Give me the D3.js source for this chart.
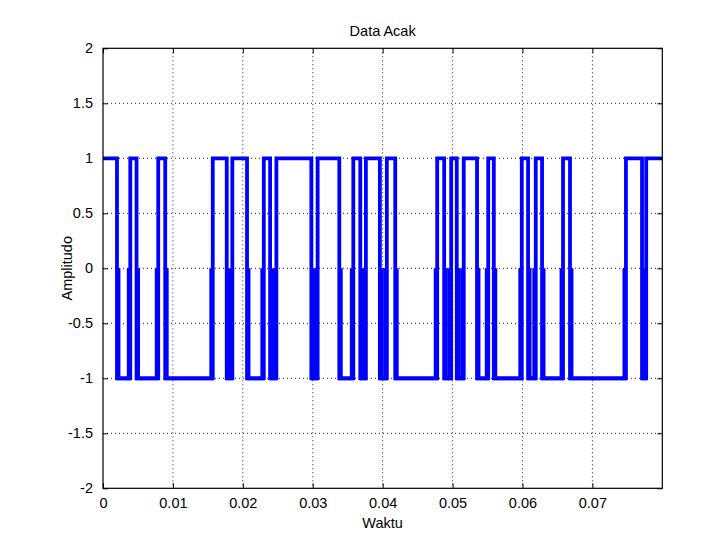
<!DOCTYPE html>
<html><head><meta charset="utf-8">
<script src="https://cdn.jsdelivr.net/npm/d3@7"></script>
<style>
body{margin:0;background:#fff}
svg text{font-family:"Liberation Sans",Arial,Helvetica,sans-serif;fill:#000}
</style>
</head><body>
<svg id="chart" width="716" height="534"></svg>
<script>
// segment start times (s) and amplitude of each segment
const segStart = [0, 0.0020, 0.0039, 0.0048, 0.0079, 0.0089, 0.0157, 0.0177, 0.0185, 0.0206,
  0.0230, 0.0239, 0.0248, 0.0298, 0.0307, 0.0338, 0.0358, 0.0368, 0.0376, 0.0396,
  0.0406, 0.0418, 0.0478, 0.0488, 0.0498, 0.0506, 0.0516, 0.0535, 0.0551, 0.0559,
  0.0599, 0.0608, 0.0619, 0.0628, 0.0658, 0.0668, 0.0748, 0.0771, 0.0777];
const segAmp = [1,-1,1,-1,1,-1,1,-1,1,-1,
  1,-1,1,-1,1,-1,1,-1,1,-1,
  1,-1,1,-1,1,-1,1,-1,1,-1,
  1,-1,1,-1,1,-1,1,-1,1];
const tMax = 0.08;
const xTicks = [0, 0.01, 0.02, 0.03, 0.04, 0.05, 0.06, 0.07];
const xTickLabels = ["0", "0.01", "0.02", "0.03", "0.04", "0.05", "0.06", "0.07"];
const yTicks = [-2, -1.5, -1, -0.5, 0, 0.5, 1, 1.5, 2];
const yTickLabels = ["-2", "-1.5", "-1", "-0.5", "0", "0.5", "1", "1.5", "2"];
const titleText = "Data Acak", xLabelText = "Waktu", yLabelText = "Amplitudo";

const W = 716, H = 534;
const m = {left: 103, top: 48.3, right: 716 - 662.3, bottom: 534 - 488.3};
const pw = W - m.left - m.right, ph = H - m.top - m.bottom;
const svg = d3.select("#chart");
const g = svg.append("g").attr("transform", `translate(${m.left},${m.top})`);

const x = d3.scaleLinear().domain([0, tMax]).range([0, pw]);
const y = d3.scaleLinear().domain([-2, 2]).range([ph, 0]);

// grid
g.append("g").selectAll("line").data(xTicks.slice(1)).join("line")
  .attr("x1", d => x(d)).attr("x2", d => x(d)).attr("y1", 0).attr("y2", ph)
  .attr("stroke", "#222").attr("stroke-width", 1).attr("stroke-dasharray", "1,3");
g.append("g").selectAll("line").data(yTicks.slice(1, -1)).join("line")
  .attr("y1", d => y(d)).attr("y2", d => y(d)).attr("x1", 0).attr("x2", pw)
  .attr("stroke", "#222").attr("stroke-width", 1).attr("stroke-dasharray", "1,3");

// signal
const pts = segStart.map((t, i) => [t, segAmp[i]]);
pts.push([tMax, segAmp[segAmp.length - 1]]);
const line = d3.line().x(d => x(d[0])).y(d => y(d[1])).curve(d3.curveStepAfter);
svg.append("clipPath").attr("id", "pc").append("rect")
  .attr("x", 0).attr("y", -10).attr("width", pw).attr("height", ph + 20);
const sig = g.append("g").attr("clip-path", "url(#pc)");
sig.append("path").attr("d", line(pts)).attr("fill", "none")
  .attr("stroke", "#0000ff").attr("stroke-width", 3.8).attr("stroke-linejoin", "miter");

// lower-half thickening for negative runs
const dlt = 0.00022;
const negRuns = segStart.map((t, i) => ({a: t, b: i + 1 < segStart.length ? segStart[i + 1] : tMax, v: segAmp[i]}))
  .filter(s => s.v < 0);
const line2 = d3.line().x(d => x(d[0])).y(d => y(d[1]));
sig.selectAll("path.neg").data(negRuns).join("path").attr("class", "neg")
  .attr("d", s => line2([[s.a + dlt, 0], [s.a + dlt, s.v], [s.b - dlt, s.v], [s.b - dlt, 0]]))
  .attr("fill", "none").attr("stroke", "#0000ff").attr("stroke-width", 3.8);

// axes (ticks inward, mirrored)
const fs = 14.5;
const xb = g.append("g").attr("transform", `translate(0,${ph})`)
  .call(d3.axisBottom(x).tickValues(xTicks).tickFormat((d, i) => xTickLabels[i]).tickSize(-5).tickPadding(9));
const xt = g.append("g").call(d3.axisTop(x).tickValues(xTicks).tickFormat("").tickSize(-5));
const yl = g.append("g").call(d3.axisLeft(y).tickValues(yTicks).tickFormat((d, i) => yTickLabels[i]).tickSize(-5).tickPadding(10));
const yr = g.append("g").attr("transform", `translate(${pw},0)`)
  .call(d3.axisRight(y).tickValues(yTicks).tickFormat("").tickSize(-5));
[xb, xt, yl, yr].forEach(a => {
  a.select(".domain").remove();
  a.selectAll("line").attr("stroke", "#000");
  a.selectAll("text").attr("font-size", fs).attr("fill", "#000");
});
g.append("rect").attr("x", 0).attr("y", 0).attr("width", pw).attr("height", ph)
  .attr("fill", "none").attr("stroke", "#000").attr("stroke-width", 1.2);

// labels
svg.append("text").attr("x", m.left + pw / 2).attr("y", 36).attr("text-anchor", "middle")
  .attr("font-size", fs).text(titleText);
svg.append("text").attr("x", m.left + pw / 2).attr("y", 528).attr("text-anchor", "middle")
  .attr("font-size", fs).text(xLabelText);
svg.append("text").attr("transform", `translate(72,${m.top + ph / 2}) rotate(-90)`)
  .attr("text-anchor", "middle").attr("font-size", fs).text(yLabelText);
</script>
</body></html>
